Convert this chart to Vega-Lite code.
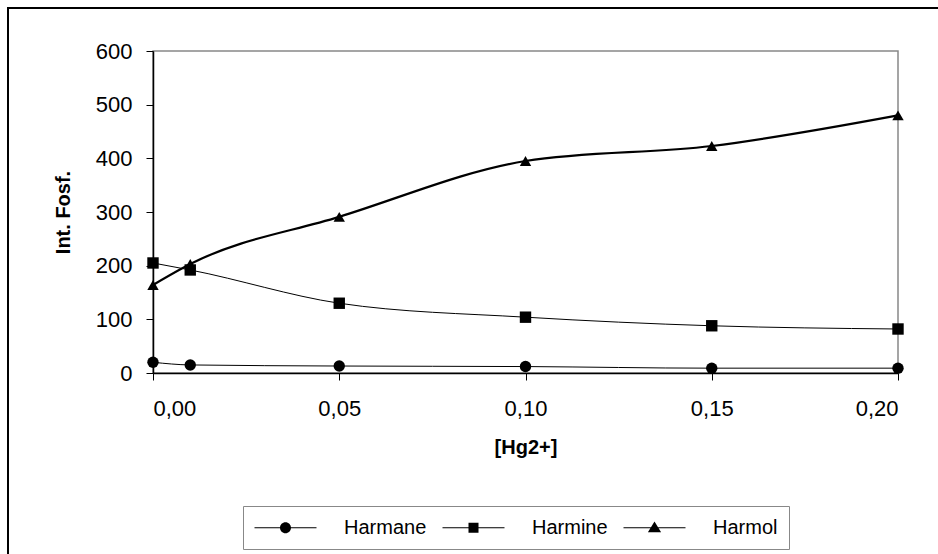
{
  "$schema": "https://vega.github.io/schema/vega-lite/v6.json",
  "width": 745,
  "height": 322,
  "autosize": {"type": "none"},
  "padding": {"left": 153, "top": 51, "right": 40, "bottom": 181},
  "background": "white",
  "config": {
    "font": "Liberation Sans",
    "view": {"stroke": "#888888", "strokeWidth": 1.5},
    "locale": {"number": {"decimal": ",", "thousands": ".", "grouping": [3], "currency": ["", " €"]}},
    "axis": {"grid": false, "domainColor": "black", "tickColor": "black", "labelColor": "black", "titleColor": "black", "labelFont": "Liberation Sans", "titleFont": "Liberation Sans", "labelFontSize": 22, "titleFontSize": 20, "titleFontWeight": "bold", "tickSize": 7, "domainWidth": 1.5}
  },
  "data": {"values": [
    {"hg": 0.00, "int": 20, "series": "Harmane"},
    {"hg": 0.01, "int": 15, "series": "Harmane"},
    {"hg": 0.05, "int": 13, "series": "Harmane"},
    {"hg": 0.10, "int": 12, "series": "Harmane"},
    {"hg": 0.15, "int": 9, "series": "Harmane"},
    {"hg": 0.20, "int": 9, "series": "Harmane"},
    {"hg": 0.00, "int": 205, "series": "Harmine"},
    {"hg": 0.01, "int": 192, "series": "Harmine"},
    {"hg": 0.05, "int": 130, "series": "Harmine"},
    {"hg": 0.10, "int": 104, "series": "Harmine"},
    {"hg": 0.15, "int": 88, "series": "Harmine"},
    {"hg": 0.20, "int": 82, "series": "Harmine"},
    {"hg": 0.00, "int": 164, "series": "Harmol"},
    {"hg": 0.01, "int": 203, "series": "Harmol"},
    {"hg": 0.05, "int": 291, "series": "Harmol"},
    {"hg": 0.10, "int": 395, "series": "Harmol"},
    {"hg": 0.15, "int": 423, "series": "Harmol"},
    {"hg": 0.20, "int": 480, "series": "Harmol"}
  ]},
  "encoding": {
    "x": {"field": "hg", "type": "quantitative", "scale": {"domain": [0, 0.2], "nice": false, "zero": false},
          "axis": {"title": "[Hg2+]", "values": [0, 0.05, 0.1, 0.15, 0.2], "format": ".2f", "labelPadding": 18, "titlePadding": 18}},
    "y": {"field": "int", "type": "quantitative", "scale": {"domain": [0, 600], "nice": false},
          "axis": {"title": "Int. Fosf.", "values": [0, 100, 200, 300, 400, 500, 600], "labelPadding": 14, "titlePadding": 22}}
  },
  "resolve": {"scale": {"shape": "independent"}, "legend": {"shape": "independent"}},
  "layer": [
    {
      "mark": {"type": "rect", "filled": false, "stroke": "black", "strokeWidth": 1.5, "clip": false},
      "encoding": {
        "x": {"datum": -0.0389, "type": "quantitative"},
        "x2": {"datum": 0.3},
        "y": {"datum": 680, "type": "quantitative"},
        "y2": {"datum": -400}
      }
    },
    {
      "transform": [{"filter": "datum.series !== 'Harmol'"}],
      "mark": {"type": "line", "interpolate": "monotone", "color": "black", "strokeWidth": 1},
      "encoding": {"detail": {"field": "series"}}
    },
    {
      "transform": [{"filter": "datum.series === 'Harmol'"}],
      "mark": {"type": "line", "interpolate": "monotone", "color": "black", "strokeWidth": 2.2},
      "encoding": {}
    },
    {
      "mark": {"type": "point", "filled": true, "color": "black", "opacity": 1, "size": 130},
      "encoding": {
        "shape": {"field": "series", "type": "nominal",
          "scale": {"domain": ["Harmane", "Harmine", "Harmol"], "range": ["circle", "square", "triangle-up"]},
          "legend": null}
      }
    },
    {
      "transform": [{"filter": "false"}],
      "mark": {"type": "point", "filled": true, "color": "black"},
      "encoding": {
        "shape": {"field": "series", "type": "nominal",
          "scale": {"domain": ["Harmane", "Harmine", "Harmol"], "range": [
            "M-3.1,-0.06H3.1V0.06H-3.1ZM0.55,0A0.55,0.55 0 1,1 -0.55,0A0.55,0.55 0 1,1 0.55,0Z",
            "M-3.1,-0.06H3.1V0.06H-3.1ZM-0.5,-0.5H0.5V0.5H-0.5Z",
            "M-3.1,-0.06H3.1V0.06H-3.1ZM0,-0.62L0.66,0.45H-0.66Z"]},
          "legend": {
            "title": null, "orient": "none", "legendX": 90, "legendY": 455, "direction": "horizontal", "columns": 3,
            "strokeColor": "#888888", "fillColor": "white", "padding": 11,
            "labelFontSize": 20, "labelFont": "Liberation Sans", "labelColor": "black", "labelOffset": 48,
            "symbolSize": 400, "symbolOffset": 21, "symbolFillColor": "black", "symbolStrokeColor": "black", "symbolStrokeWidth": 1, "symbolOpacity": 1,
            "columnPadding": 13
          }
        }
      }
    }
  ]
}
